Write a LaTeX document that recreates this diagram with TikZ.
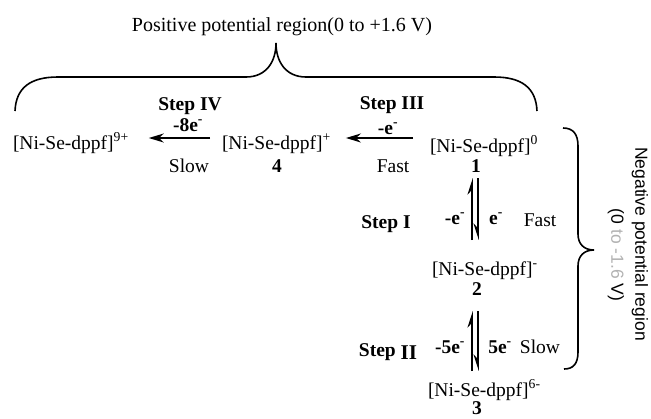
\documentclass[tikz,border=0pt]{standalone}
\usepackage{fontspec}
\setmainfont{Liberation Serif}
\newfontfamily\sansf{Liberation Sans}
\usetikzlibrary{arrows.meta}
\begin{document}
\begin{tikzpicture}[x=1pt,y=-1pt,
  txt/.style={inner sep=0pt,outer sep=0pt,font=\fontsize{19.5}{22}\selectfont,anchor=base},
  btxt/.style={txt,font=\fontsize{19.5}{22}\selectfont\bfseries},
  harrow/.style={line width=2pt,-{Stealth[length=15pt,width=9pt]}},
  eqleft/.style={line width=1.6pt,-{Stealth[left,length=14pt,width=9pt]}},
  eqright/.style={line width=1.6pt,-{Stealth[right,length=14pt,width=9pt]}},
  bracestyle/.style={line width=1.6pt},
  negtxt/.style={inner sep=0pt,rotate=-90,font=\sansf\fontsize{17.5}{19}\selectfont}]
\useasboundingbox (0,0) rectangle (651,418);
% title
\node[txt,font=\fontsize{20}{22}\selectfont] (title) at (282,31) {Positive potential region(0 to +1.6 V)};
% top brace
\draw[bracestyle] (15,111) .. controls (16,88) and (30,77) .. (58,77) -- (246,77)
  .. controls (266,77) and (276,62) .. (276,43)
  .. controls (276,62) and (286,77) .. (306,77) -- (494,77)
  .. controls (522,77) and (536,88) .. (537,111);
% complexes
\coordinate (arow) at (0,138);
\node[txt,anchor=base west] (c9) at (13,149) {[Ni-Se-dppf]\textsuperscript{9+}};
\node[txt,anchor=base west] (c4) at (222,149) {[Ni-Se-dppf]\textsuperscript{+}};
\node[txt,anchor=base west] (c1) at (430,152) {[Ni-Se-dppf]\textsuperscript{0}};
\node[btxt] (n4) at (277,172) {4};
\node[btxt] (n1) at (476,172) {1};
% step IV
\node[btxt] (s4) at (190,110) {Step IV};
\node[btxt] (e4) at (188,131) {-8e\textsuperscript{-}};
\node[txt] (slow4) at (189,172) {Slow};
% step III
\node[btxt] (s3) at (392,109) {Step III};
\node[btxt] (e3) at (388,134) {-e\textsuperscript{-}};
\node[txt] (fast3) at (393,172) {Fast};
\draw[harrow] ([xshift=-12pt]c4.west |- arow) -- ([xshift=20pt]c9.east |- arow);
\draw[harrow] ([xshift=-17pt]c1.west |- arow) -- ([xshift=15pt]c4.east |- arow);
% step I
\coordinate (q1t) at (475,178);
\coordinate (q1b) at (475,240);
\draw[eqleft] ([xshift=-3pt]q1b) -- ([xshift=-3pt]q1t);
\draw[eqright] ([xshift=3pt]q1t) -- ([xshift=3pt]q1b);
\node[btxt] (s1) at (386,228) {Step I};
\node[btxt] (em1) at (455,224) {-e\textsuperscript{-}};
\node[btxt] (ep1) at (496,224) {e\textsuperscript{-}};
\node[txt] (fast1) at (540,226) {Fast};
\node[txt,anchor=base west] (c2) at (432,275) {[Ni-Se-dppf]\textsuperscript{-}};
\node[btxt] (n2) at (477,295) {2};
% step II
\coordinate (q2t) at (475,311);
\coordinate (q2b) at (475,371);
\draw[eqleft] ([xshift=-3pt]q2b) -- ([xshift=-3pt]q2t);
\draw[eqright] ([xshift=3pt]q2t) -- ([xshift=3pt]q2b);
\node[btxt] (s2) at (388,356) {Step \raisebox{-3pt}{\fontsize{21}{22}\selectfont II}};
\node[btxt] (em2) at (450,353) {-5e\textsuperscript{-}};
\node[btxt] (ep2) at (500,353) {5e\textsuperscript{-}};
\node[txt] (slow2) at (540,353) {Slow};
\node[txt,anchor=base west] (c3) at (428,396) {[Ni-Se-dppf]\textsuperscript{6-}};
\node[btxt] (n3) at (477,414) {3};
% right brace
\draw[bracestyle] (563,128) .. controls (573,128) and (578,134) .. (578,146) -- (578,234)
  .. controls (578,244) and (584,250) .. (594,250)
  .. controls (584,250) and (578,256) .. (578,266) -- (578,352)
  .. controls (578,364) and (573,369) .. (564,369);
\node[negtxt] (neg) at (640,244) {Negative potential region};
\node[negtxt] (negv) at (616,255) {(0 \textcolor{gray!60}{to -1.6} V)};
\end{tikzpicture}
\end{document}
